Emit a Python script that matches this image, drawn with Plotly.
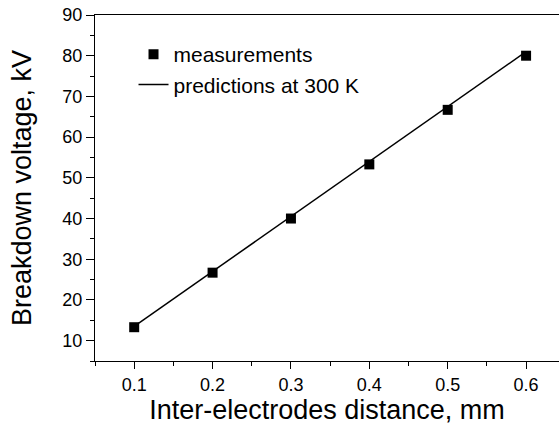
import plotly.graph_objects as go

distance_mm = [0.1, 0.2, 0.3, 0.4, 0.5, 0.6]
measured_kV = [13.3, 26.7, 40.0, 53.3, 66.7, 80.0]
predicted_kV = [13.5, 27.0, 40.5, 54.0, 67.5, 81.0]

FONT = "Liberation Sans, Arial, sans-serif"

fig = go.Figure()
fig.add_trace(go.Scatter(
    x=distance_mm, y=measured_kV, mode="markers", name="measurements",
    marker=dict(symbol="square", size=10, color="black"),
))
fig.add_trace(go.Scatter(
    x=distance_mm, y=predicted_kV, mode="lines", name="predictions at 300 K",
    line=dict(color="black", width=1.5),
))

fig.update_layout(
    width=559, height=435,
    margin=dict(l=95, r=0, t=15, b=74, autoexpand=False),
    paper_bgcolor="white", plot_bgcolor="white",
    font=dict(family=FONT, color="black", size=18),
    showlegend=True,
    legend=dict(
        x=0.083, y=0.945, xanchor="left", yanchor="top",
        bgcolor="rgba(0,0,0,0)", font=dict(size=21, family=FONT, color="black"),
        tracegroupgap=0,
    ),
)
fig.update_xaxes(
    range=[0.05, 0.642], tick0=0.1, dtick=0.1, tickformat=".1f",
    automargin=False, ticklabeloverflow="allow",
    showgrid=False, zeroline=False,
    showline=True, linecolor="black", linewidth=1.3, mirror=True,
    ticks="outside", ticklen=7, tickwidth=1.3, tickcolor="black",
    minor=dict(dtick=0.05, tick0=0.05, ticks="outside", ticklen=4, tickwidth=1.3, tickcolor="black"),
    tickfont=dict(size=18, family=FONT),
    title=dict(text="Inter-electrodes distance, mm", font=dict(size=27, family=FONT), standoff=0),
)
fig.update_yaxes(
    range=[5, 90], tick0=10, dtick=10,
    automargin=False, ticklabeloverflow="allow",
    showgrid=False, zeroline=False,
    showline=True, linecolor="black", linewidth=1.3,
    ticks="outside", ticklen=8, tickwidth=1.3, tickcolor="black",
    minor=dict(dtick=5, tick0=5, ticks="outside", ticklen=4, tickwidth=1.3, tickcolor="black"),
    tickfont=dict(size=18, family=FONT),
    title=dict(text="Breakdown voltage, kV", font=dict(size=27, family=FONT), standoff=22),
)

# remove the page's default body margin so the figure fills the window exactly
fig.write_html(
    "out.html",
    config={"displayModeBar": False},
    post_script="document.body.style.margin='0';",
)
